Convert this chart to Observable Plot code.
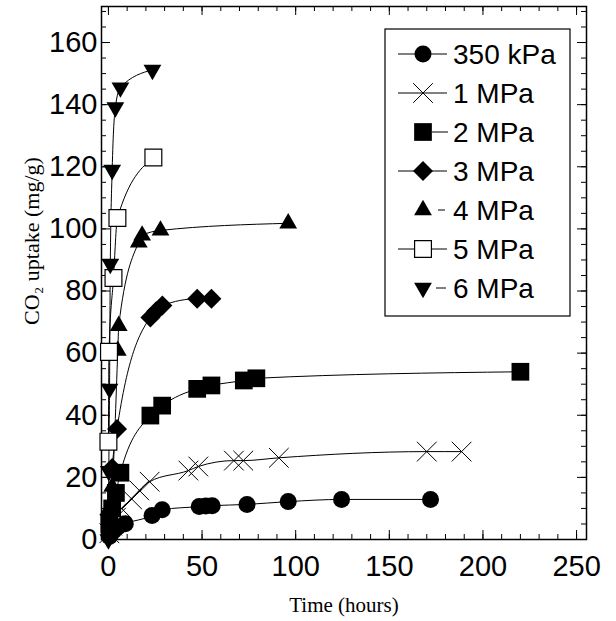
<!DOCTYPE html>
<html>
<head>
<meta charset="utf-8">
<script src="https://cdn.jsdelivr.net/npm/d3@7"></script>
<script src="https://cdn.jsdelivr.net/npm/@observablehq/plot@0.6"></script>
<style>
  html, body { margin: 0; padding: 0; background: #fff; }
  #chart svg { display: block; }
</style>
</head>
<body>
<div id="chart"></div>
<script>
// ---- Data ----
const seriesNames = ["350 kPa", "1 MPa", "2 MPa", "3 MPa", "4 MPa", "5 MPa", "6 MPa"];

const t350kPa = [0.5, 1.5, 3, 5, 9, 23.3, 28.7, 48.5, 52, 55.4, 74, 96, 124.5, 172];
const v350kPa = [1, 2, 3, 4, 5.1, 7.7, 9.6, 10.6, 10.8, 10.9, 11.3, 12.2, 12.9, 12.9];

const t1MPa = [0.5, 2, 4, 7, 12.5, 16.5, 22, 42.7, 48, 67, 72, 91, 170, 188.6];
const v1MPa = [2, 4.5, 7, 10, 13, 15.8, 18.6, 22.2, 23.5, 25.4, 25.4, 26.3, 28.3, 28.3];

const t2MPa = [0.5, 2, 4, 6.4, 22.4, 28.7, 47.4, 55, 72.3, 79, 220];
const v2MPa = [5, 10, 15, 21.5, 39.9, 43.1, 48.5, 49.6, 51.2, 51.9, 54];

const t3MPa = [0.5, 2, 4.6, 22.4, 25.5, 28.8, 47.4, 55];
const v3MPa = [8, 23, 35.6, 71.5, 73.5, 75.3, 77.5, 77.5];

const t4MPa = [0.5, 2, 5, 5.5, 16.2, 18, 27.8, 96];
const v4MPa = [10, 17, 60.8, 68.8, 95.7, 97.9, 99.5, 101.8];

const t5MPa = [0, 0.3, 2.7, 4.8, 24];
const v5MPa = [31.5, 60.4, 84.2, 103.5, 123];

const t6MPa = [0, 0.2, 0.6, 1, 2, 3.7, 6.4, 23.5];
const v6MPa = [0, 22, 48.5, 88.7, 119, 139.1, 145.5, 151.2];

const xTickLabels = [0, 50, 100, 150, 200, 250];
const yTickLabels = [0, 20, 40, 60, 80, 100, 120, 140, 160];
const xMinor = d3.range(0, 251, 10);
const yMinor = d3.range(0, 171, 5);

const xTitle = "Time (hours)";
const yTitle = "CO\u2082 uptake (mg/g)";

// ---- Build table ----
const times = [t350kPa, t1MPa, t2MPa, t3MPa, t4MPa, t5MPa, t6MPa];
const values = [v350kPa, v1MPa, v2MPa, v3MPa, v4MPa, v5MPa, v6MPa];
const rows = [];
seriesNames.forEach((s, i) => times[i].forEach((t, j) => rows.push({series: s, t, v: values[i][j]})));

// custom downward triangle
const triangleDown = {
  draw(context, size) {
    const y = Math.sqrt(size / (Math.sqrt(3) * 3));
    const x = Math.sqrt(3) * y;
    context.moveTo(0, 2 * y);
    context.lineTo(-x, -y);
    context.lineTo(x, -y);
    context.closePath();
  }
};

const styles = {
  "350 kPa": {symbol: "circle", r: 8.5, fill: "black", stroke: "none"},
  "1 MPa":   {symbol: "times", r: 9, fill: "none", stroke: "black", strokeWidth: 1},
  "2 MPa":   {symbol: "square", r: 10, fill: "black", stroke: "none"},
  "3 MPa":   {symbol: "diamond2", r: 9, fill: "black", stroke: "none"},
  "4 MPa":   {symbol: "triangle", r: 6.6, fill: "black", stroke: "none"},
  "5 MPa":   {symbol: "square", r: 9.5, fill: "white", stroke: "black", strokeWidth: 1.2},
  "6 MPa":   {symbol: triangleDown, r: 6.6, fill: "black", stroke: "none"}
};

const W = 616, H = 621;
const mL = 101, mR = 30, mT = 6, mB = 82;
const innerW = W - mL - mR, innerH = H - mT - mB;
const major = 9, minor = 5;

const dotMarks = seriesNames.map(s => Plot.dot(rows.filter(d => d.series === s), {
  x: "t", y: "v", ...styles[s]
}));

const chart = Plot.plot({
  width: W, height: H,
  marginLeft: mL, marginRight: mR, marginTop: mT, marginBottom: mB,
  style: {fontFamily: "'Liberation Sans', Arial, sans-serif", fontSize: "29px", color: "black", background: "white"},
  x: {domain: [-3.7, 255.3]},
  y: {domain: [0, 171.6]},
  marks: [
    // inward ticks: bottom, top, left, right
    Plot.ruleX(xMinor, {insetTop: innerH - minor, stroke: "black"}),
    Plot.ruleX(xTickLabels, {insetTop: innerH - major, stroke: "black"}),
    Plot.ruleX(xMinor, {insetBottom: innerH - minor, stroke: "black"}),
    Plot.ruleX(xTickLabels, {insetBottom: innerH - major, stroke: "black"}),
    Plot.ruleY(yMinor, {insetRight: innerW - minor, stroke: "black"}),
    Plot.ruleY(yTickLabels, {insetRight: innerW - major, stroke: "black"}),
    Plot.ruleY(yMinor, {insetLeft: innerW - minor, stroke: "black"}),
    Plot.ruleY(yTickLabels, {insetLeft: innerW - major, stroke: "black"}),
    Plot.frame({stroke: "black", strokeWidth: 1.5}),
    Plot.axisX({ticks: xTickLabels, tickSize: 0, tickPadding: 16, label: null, tickFormat: d => String(d)}),
    Plot.axisY({ticks: yTickLabels, tickSize: 0, tickPadding: 4, label: null, tickFormat: d => String(d)}),
    Plot.text([xTitle], {frameAnchor: "bottom", textAnchor: "middle", lineAnchor: "middle", dy: 66,
      fontFamily: "'Liberation Serif', serif", fontSize: 21}),
    Plot.text([yTitle], {frameAnchor: "left", textAnchor: "middle", lineAnchor: "middle", rotate: -90, dx: -70, dy: -32,
      fontFamily: "'Liberation Serif', serif", fontSize: 22}),
    Plot.line(rows, {x: "t", y: "v", z: "series", curve: "monotone-x", stroke: "black", strokeWidth: 1}),
    ...dotMarks
  ]
});

document.getElementById("chart").appendChild(chart);

// ---- Legend (drawn into the same SVG) ----
const svg = d3.select(chart);
const lg = svg.append("g").attr("class", "legend").attr("text-anchor", "start");
const box = {x0: 385, y0: 29, x1: 570, y1: 316};
lg.append("rect").attr("x", box.x0).attr("y", box.y0)
  .attr("width", box.x1 - box.x0).attr("height", box.y1 - box.y0)
  .attr("fill", "white").attr("stroke", "black").attr("stroke-width", 1.2);
const rowY0 = 54, rowStep = 39, symX = 423, textX = 453;
const lineSpans = {
  "350 kPa": [398, 447], "1 MPa": [398, 447], "2 MPa": [432, 448], "3 MPa": [398, 447],
  "4 MPa": [438, 445], "5 MPa": [398, 447], "6 MPa": [436, 446]
};
const d3Symbols = {circle: d3.symbolCircle, times: d3.symbolTimes, square: d3.symbolSquare,
  diamond2: d3.symbolDiamond2, triangle: d3.symbolTriangle};
seriesNames.forEach((s, i) => {
  const y = rowY0 + i * rowStep;
  const st = styles[s];
  const [a, b] = lineSpans[s];
  lg.append("line").attr("x1", a).attr("x2", b).attr("y1", y).attr("y2", y)
    .attr("stroke", "black").attr("stroke-width", 1);
  const type = typeof st.symbol === "string" ? d3Symbols[st.symbol] : st.symbol;
  lg.append("path")
    .attr("d", d3.symbol(type, Math.PI * st.r * st.r)())
    .attr("transform", `translate(${symX},${y})`)
    .attr("fill", st.fill).attr("stroke", st.stroke === "none" ? null : st.stroke)
    .attr("stroke-width", st.strokeWidth || null);
  lg.append("text").attr("x", textX).attr("y", y).attr("dy", "0.36em")
    .attr("text-anchor", "start")
    .attr("font-size", 28).attr("font-family", "'Liberation Sans', Arial, sans-serif")
    .attr("fill", "black").text(s);
});
</script>
</body>
</html>
